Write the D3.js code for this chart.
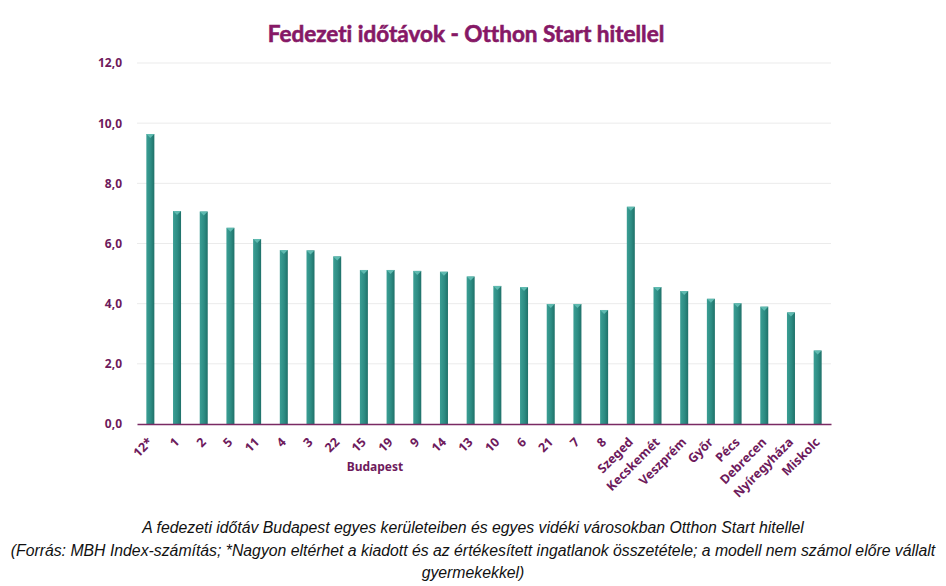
<!DOCTYPE html>
<html>
<head>
<meta charset="utf-8">
<script src="https://cdn.jsdelivr.net/npm/d3@7.9.0/dist/d3.min.js"></script>
<style>
  body { margin: 0; background: #fff; }
  svg { display: block; }
</style>
</head>
<body>
<svg width="946" height="586"></svg>
<script>
// categories and values
const categories = ["12*", "1", "2", "5", "11", "4", "3", "22", "15", "19", "9", "14", "13",
  "10", "6", "21", "7", "8", "Szeged", "Kecskemét", "Veszprém", "Győr", "Pécs", "Debrecen",
  "Nyíregyháza", "Miskolc"];
const values = [9.64, 7.08, 7.06, 6.52, 6.15, 5.78, 5.77, 5.57, 5.12, 5.12, 5.09, 5.06, 4.90,
  4.59, 4.55, 3.99, 3.99, 3.79, 7.22, 4.55, 4.42, 4.16, 4.01, 3.90, 3.71, 2.44];
const yTicks = [0, 2, 4, 6, 8, 10, 12];
const captionLines = [
  "A fedezeti időtáv Budapest egyes kerületeiben és egyes vidéki városokban Otthon Start hitellel",
  "(Forrás: MBH Index-számítás; *Nagyon eltérhet a kiadott és az értékesített ingatlanok összetétele; a modell nem számol előre vállalt",
  "gyermekekkel)"
];

const data = categories.map((c, i) => ({ label: c, value: values[i] }));

let svg = d3.select("svg");
const plotLeft = 137, plotRight = 831, plotTop = 63, plotBottom = 424;
const purple = "#6e1a5c";

let x = d3.scaleBand().domain(categories).range([plotLeft, plotRight]).paddingInner(0.7).paddingOuter(0.35);
let y = d3.scaleLinear().domain([0, 12]).range([plotBottom, plotTop]);

// bar gradient
let defs = svg.append("defs");
let grad = defs.append("linearGradient").attr("id", "barGrad").attr("x1", "0").attr("x2", "1");
grad.append("stop").attr("offset", "0%").attr("stop-color", "#3b9e94");
grad.append("stop").attr("offset", "55%").attr("stop-color", "#2d8c83");
grad.append("stop").attr("offset", "100%").attr("stop-color", "#1f7169");

// title
svg.append("text")
  .attr("x", 466).attr("y", 42)
  .attr("text-anchor", "middle")
  .style("font-family", "Lato")
  .style("font-weight", 700)
  .style("font-size", "22.5px")
  .style("font-variant-ligatures", "none")
  .style("fill", "#861866")
  .style("stroke", "#861866")
  .style("stroke-width", 0.6)
  .text("Fedezeti időtávok - Otthon Start hitellel");

// gridlines
svg.append("g")
  .selectAll("line")
  .data(yTicks.filter(d => d > 0))
  .enter()
  .append("line")
  .attr("x1", plotLeft).attr("x2", plotRight)
  .attr("y1", d => y(d)).attr("y2", d => y(d))
  .attr("stroke", "#ebebeb").attr("stroke-width", 1);

// y axis
let yAxis = svg.append("g")
  .attr("transform", `translate(${plotLeft},0)`)
  .call(d3.axisLeft(y).tickValues(yTicks).tickSize(0).tickPadding(15)
    .tickFormat(d => d3.format(".1f")(d).replace(".", ",")));
yAxis.select(".domain").remove();
yAxis.selectAll("text")
  .style("font-family", "Noto Sans")
  .style("font-weight", 700)
  .style("font-size", "12px")
  .style("fill", purple);

// bars
svg.append("g")
  .selectAll("rect")
  .data(data)
  .enter()
  .append("rect")
  .attr("x", d => x(d.label))
  .attr("y", d => y(d.value))
  .attr("width", x.bandwidth())
  .attr("height", d => y(0) - y(d.value))
  .attr("fill", "url(#barGrad)");

// small bevel at bar tops
svg.append("g")
  .selectAll("path")
  .data(data)
  .enter()
  .append("path")
  .attr("d", d => {
    let x0 = x(d.label), w = x.bandwidth(), y0 = y(d.value);
    return `M${x0},${y0}L${x0 + w},${y0}L${x0 + w / 2},${y0 + 4}Z`;
  })
  .attr("fill", "#5fbab0");

// x axis
let xAxis = svg.append("g")
  .attr("transform", `translate(0,${plotBottom})`)
  .call(d3.axisBottom(x).tickSize(0));
xAxis.select(".domain")
  .attr("stroke", "#7a2a63").attr("stroke-width", 1.5);
xAxis.selectAll("text")
  .attr("y", 0)
  .attr("dy", 0)
  .attr("transform", "translate(3,19) rotate(-45)")
  .attr("text-anchor", "end")
  .style("font-family", "Noto Sans")
  .style("font-weight", 700)
  .style("font-size", "12.5px")
  .style("fill", purple);

// group label
svg.append("text")
  .attr("x", 375).attr("y", 471)
  .attr("text-anchor", "middle")
  .style("font-family", "Noto Sans")
  .style("font-weight", 700)
  .style("font-size", "12px")
  .style("fill", purple)
  .text("Budapest");

// caption
svg.append("g")
  .selectAll("text")
  .data(captionLines)
  .enter()
  .append("text")
  .attr("x", 473)
  .attr("y", (d, i) => 533 + i * 22.5)
  .attr("text-anchor", "middle")
  .style("font-family", "Liberation Sans")
  .style("font-style", "italic")
  .style("font-size", "15.8px")
  .style("fill", "#111")
  .text(d => d);
</script>
</body>
</html>
